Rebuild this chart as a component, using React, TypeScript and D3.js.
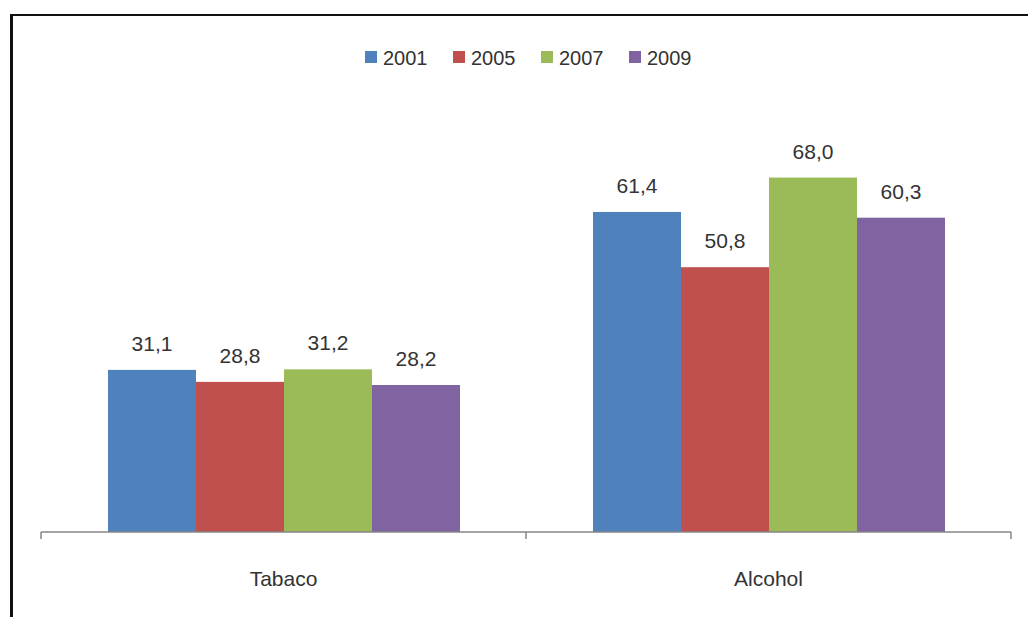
import React from "react";
import * as d3 from "d3";

const categories = ["Tabaco", "Alcohol"];
const seriesNames = ["2001", "2005", "2007", "2009"];
const tabacoValues = [31.1, 28.8, 31.2, 28.2];
const alcoholValues = [61.4, 50.8, 68.0, 60.3];
const seriesColors = ["#4F81BD", "#C0504D", "#9BBB59", "#8064A2"];

const W = 1028;
const H = 617;
const baseline = 532;
const axisLeft = 41;
const axisRight = 1011;
const font = "'Liberation Sans', Arial, sans-serif";

const fmt = (v: number) => v.toFixed(1).replace(".", ",");

export default function App() {
  const valuesByCategory: Record<string, number[]> = {
    Tabaco: tabacoValues,
    Alcohol: alcoholValues,
  };

  const x = d3.scaleBand<string>().domain(categories).range([axisLeft, axisRight]);
  const inner = d3
    .scaleBand<string>()
    .domain(seriesNames)
    .range([67, x.bandwidth() - 66]);
  const y = d3.scaleLinear().domain([0, 80]).range([baseline, 115]);

  const tickXs = [axisLeft, ...categories.map((c) => (x(c) as number) + x.bandwidth())];

  const legendStart = 365;
  const legendStep = 88;

  return (
    <svg
      width={W}
      height={H}
      style={{ position: "absolute", left: 0, top: 0, background: "#fff" }}
    >
      {/* outer frame: top and left edges */}
      <line x1={10} y1={15} x2={W} y2={15} stroke="#111" strokeWidth={2} />
      <line x1={11.5} y1={14} x2={11.5} y2={H} stroke="#111" strokeWidth={3} />

      {/* legend */}
      {seriesNames.map((s, i) => (
        <g key={s} transform={`translate(${legendStart + i * legendStep},57)`}>
          <rect x={0} y={-6} width={12} height={12} fill={seriesColors[i]} />
          <text x={18} y={7.5} fontFamily={font} fontSize={20} fill="#333">
            {s}
          </text>
        </g>
      ))}

      {/* bars and value labels */}
      {categories.map((c) => (
        <g key={c} transform={`translate(${x(c)},0)`}>
          {valuesByCategory[c].map((v, i) => {
            const bx = inner(seriesNames[i]) as number;
            const bw = inner.bandwidth();
            return (
              <g key={seriesNames[i]}>
                <rect
                  x={bx}
                  y={y(v)}
                  width={bw}
                  height={baseline - y(v)}
                  fill={seriesColors[i]}
                />
                <text
                  x={bx + bw / 2}
                  y={y(v) - 19}
                  textAnchor="middle"
                  fontFamily={font}
                  fontSize={21}
                  fill="#333"
                >
                  {fmt(v)}
                </text>
              </g>
            );
          })}
        </g>
      ))}

      {/* category axis */}
      <line x1={axisLeft} y1={baseline} x2={axisRight} y2={baseline} stroke="#868686" strokeWidth={1.5} />
      {tickXs.map((tx, i) => (
        <line key={i} x1={tx} y1={baseline} x2={tx} y2={baseline + 7} stroke="#868686" strokeWidth={1.5} />
      ))}
      {categories.map((c) => (
        <text
          key={c}
          x={(x(c) as number) + x.bandwidth() / 2}
          y={586}
          textAnchor="middle"
          fontFamily={font}
          fontSize={21}
          fill="#333"
        >
          {c}
        </text>
      ))}
    </svg>
  );
}
